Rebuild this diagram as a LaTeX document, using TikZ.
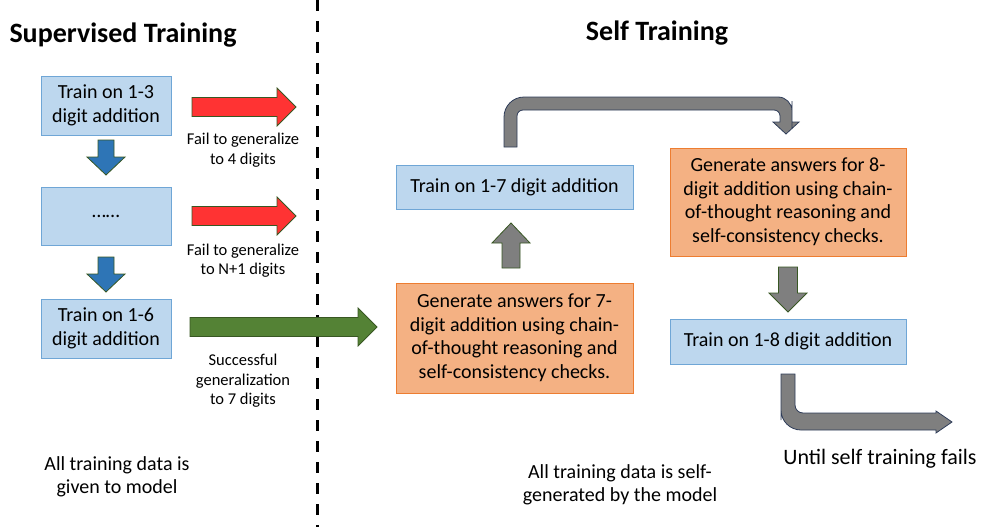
\documentclass[tikz,border=0pt]{standalone}
\usepackage{fontspec}
\setmainfont{Carlito}
\definecolor{boxblue}{HTML}{BDD7EE}
\definecolor{lineblue}{HTML}{6FA6D6}
\definecolor{boxorange}{HTML}{F4B183}
\definecolor{lineorange}{HTML}{ED7D31}
\definecolor{arrowblue}{HTML}{2E75B6}
\definecolor{arrowred}{HTML}{FF3333}
\definecolor{arrowgreen}{HTML}{548235}
\definecolor{arrowgrey}{HTML}{7F7F7F}
\definecolor{edgegreen}{HTML}{385723}
\definecolor{edgenavy}{HTML}{2F3D5A}

\begin{document}
\begin{tikzpicture}
  [x=1pt,y=-1pt,
   bluebox/.style={draw=lineblue,fill=boxblue,line width=1pt,align=center,inner sep=0pt,font=\fontsize{20}{23.5}\selectfont},
   orangebox/.style={bluebox,draw=lineorange,fill=boxorange},
   note/.style={align=center,font=\fontsize{16.5}{19.5}\selectfont},
   bignote/.style={align=center,font=\fontsize{20}{23}\selectfont},
   title/.style={font=\fontsize{28}{34}\selectfont\bfseries},
   blockarrow/.style={draw=edgegreen,line width=0.8pt},
   bentarrow/.style={draw=edgenavy,fill=arrowgrey,line width=0.8pt}]
  \useasboundingbox (0,0) rectangle (982,527);

  \node[title] (sup) at (123,35) {Supervised Training};
  \node[title] (self) at (657,33) {Self Training};

  \node[bluebox,minimum width=130pt,minimum height=59pt] (n13) at (106,105.5) {Train on 1-3\\digit addition};
  \node[bluebox,minimum width=130pt,minimum height=58pt] (ndots) at (106,216) {……};
  \node[bluebox,minimum width=130pt,minimum height=59pt] (n16) at (106,328.5) {Train on 1-6\\digit addition};

  \node[bluebox,minimum width=237pt,minimum height=44pt] (n17) at (514.5,187) {Train on 1-7 digit addition};
  \node[orangebox,minimum width=237pt,minimum height=110pt] (g7) at (514.5,338) {Generate answers for 7-\\digit addition using chain-\\of-thought reasoning and\\self-consistency checks.};
  \node[orangebox,minimum width=236pt,minimum height=108pt] (g8) at (788,202) {Generate answers for 8-\\digit addition using chain-\\of-thought reasoning and\\self-consistency checks.};
  \node[bluebox,minimum width=236pt,minimum height=45pt] (n18) at (788,341.5) {Train on 1-8 digit addition};

  \node[note] (f4) at (243,150) {Fail to generalize\\to 4 digits};
  \node[note] (fn) at (243,260.5) {Fail to generalize\\to N+1 digits};
  \node[note] (s7) at (243,381) {Successful\\generalization\\to 7 digits};
  \node[bignote] (given) at (117,477) {All training data is\\given to model};
  \node[bignote] (selfgen) at (620,484.5) {All training data is self-\\generated by the model};
  \node[font=\fontsize{22}{26}\selectfont] (until) at (880,459) {Until self training fails};

  % divider
  \draw[line width=3pt,dash pattern=on 11pt off 10pt] (317,0) -- (317,527);

  % supervised side
  \foreach \y in {107,216}
    \draw[blockarrow,fill=arrowred] (192,\y-9.5) -- (277,\y-9.5) -- (277,\y-19) -- (296,\y) -- (277,\y+19) -- (277,\y+9.5) -- (192,\y+9.5) -- cycle;
  \foreach \y in {140,257}
    \draw[blockarrow,fill=arrowblue] (98,\y) -- (114,\y) -- (114,\y+17) -- (125,\y+17) -- (106,\y+35) -- (87,\y+17) -- (98,\y+17) -- cycle;
  \draw[blockarrow,fill=arrowgreen] (190,317.5) -- (358,317.5) -- (358,308) -- (377,327) -- (358,346) -- (358,336.5) -- (190,336.5) -- cycle;

  % self training loop
  \draw[blockarrow,fill=arrowgrey] (502,268) -- (502,243) -- (492,243) -- (511,223) -- (530,243) -- (520,243) -- (520,268) -- cycle;
  \draw[blockarrow,fill=arrowgrey] (778.5,267) -- (797.5,267) -- (797.5,293) -- (807,293) -- (788,312) -- (769,293) -- (778.5,293) -- cycle;
  \draw[bentarrow] (504,147) -- (504,120) [rounded corners=20pt] -- (504,97) -- (650,97) [rounded corners=14pt] -- (792,97) -- (792,115) [sharp corners] -- (792,122) -- (799,122) -- (786,134) -- (773,122) -- (780,122) -- (780,117) [rounded corners=6pt] -- (780,110) -- (517,110) -- (517,125) [sharp corners] -- (517,147) -- cycle;
  \draw[bentarrow] (781,374) -- (795,374) -- (795,400) [rounded corners=8pt] -- (795,413) -- (830,413) [sharp corners] -- (936,413) -- (936,411) -- (952,422) -- (936,433) -- (936,430) -- (830,430) [rounded corners=20pt] -- (781,430) -- (781,400) [sharp corners] -- cycle;

\end{tikzpicture}
\end{document}
